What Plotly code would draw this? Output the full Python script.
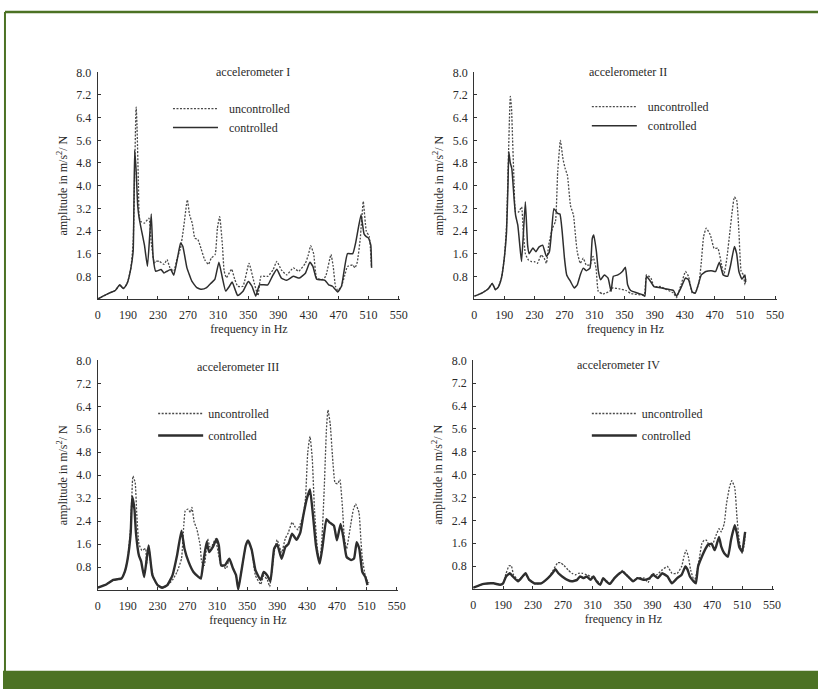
import plotly.graph_objects as go

W, H = 825, 689

# ---------------- data (frequency in Hz, amplitude in m/s^2/N) ----------------
f1_ctrl = [0, 40, 77, 110, 139, 160, 180, 190, 194, 197, 198, 199, 201, 203, 205, 207.5, 212, 216, 221, 223.6, 227,
           234, 238, 242, 247, 251, 256, 260, 263, 266, 268.5, 275, 281.6, 288, 294.7, 301, 305.6, 311, 315.6, 320,
           325, 328.6, 333, 336, 343, 350, 355, 360, 365, 376, 382, 388, 394, 401, 410, 418, 426, 432, 436, 441,
           452, 457, 462, 469, 474, 482, 489, 493, 500, 504, 507, 510, 513, 514]
a1_ctrl = [0, 0.12, 0.22, 0.3, 0.5, 0.37, 0.5, 0.63, 1.1, 1.7, 3.3, 5.25, 4.5, 3.3, 2.85, 2.5, 1.9, 1.15, 3.0, 1.45, 0.98,
           1.04, 0.92, 0.98, 1.04, 0.84, 1.45, 1.98, 1.86, 1.45, 1.1, 0.63, 0.4, 0.34, 0.4, 0.57, 0.69, 1.3, 0.75, 0.28,
           0.45, 0.6, 0.3, 0.12, 0.27, 0.62, 0.45, 0.1, 0.5, 0.5, 0.8, 1.05, 0.74, 0.66, 0.8, 0.74, 0.91, 1.3, 1.15, 0.7,
           0.66, 0.5, 0.45, 0.25, 0.45, 1.6, 1.6, 2.0, 2.97, 2.3, 2.2, 2.15, 1.9, 1.1]
f1_unc = [0, 40, 77, 110, 139, 160, 180, 190, 194, 197, 199, 200.5, 201, 202, 204, 205, 207, 212, 218, 221, 225, 227,
          232, 238, 242, 246, 251, 255.6, 260, 264, 269, 272, 275.5, 279, 283, 287, 292, 297, 301, 306, 309, 312,
          315.6, 318, 321, 326, 328, 332, 336, 343, 351, 358, 363, 367, 376, 383, 388, 394, 401, 410, 417, 426, 430,
          433, 437, 441, 448, 453, 460, 463, 466, 469, 474, 478, 482, 489, 492, 495, 499, 503, 507, 511, 514]
a1_unc = [0, 0.12, 0.22, 0.3, 0.5, 0.37, 0.5, 0.63, 1.1, 2.0, 4.5, 6.5, 6.77, 6.2, 4.0, 2.9, 2.74, 2.68, 2.85, 2.0, 1.27,
          1.33, 1.33, 1.22, 1.39, 1.1, 0.98, 1.45, 1.8, 2.5, 3.5, 2.97, 2.68, 2.15, 2.1, 1.8, 1.39, 1.22, 1.45, 1.57,
          2.5, 2.91, 1.92, 0.98, 0.75, 0.98, 1.05, 0.7, 0.45, 0.45, 1.26, 0.56, 0.12, 0.8, 0.8, 1.03, 1.33, 1.03,
          0.85, 1.1, 0.98, 1.26, 1.56, 1.88, 1.6, 0.74, 0.68, 0.8, 1.57, 1.15, 0.45, 0.3, 0.45, 0.8, 1.15, 1.2, 1.1,
          1.3, 2.14, 3.44, 2.4, 2.2, 1.1]

f2_ctrl = [0, 48, 89, 114, 134, 151, 172, 190, 193, 195, 196, 198, 200, 203, 205, 208, 211, 213, 218, 221, 223, 228,
           232, 236, 241, 246, 250, 253, 256, 261, 264, 267, 270, 273, 278, 283, 287, 291, 295, 299, 304, 307, 309,
           312.5, 315, 318, 323, 328, 332, 335, 341, 347, 351, 354, 358, 367, 374, 377, 379, 385, 389, 398, 406, 415,
           419, 425, 431, 435, 440, 444, 449, 452, 458, 465, 471, 476, 481, 487, 491, 496, 499, 502, 506, 510, 511]
a2_ctrl = [0.1, 0.21, 0.36, 0.55, 0.33, 0.41, 0.74, 1.44, 2.37, 4.13, 5.2, 4.8, 4.6, 3.54, 2.96, 2.6, 1.79, 1.32, 3.43,
           1.9, 1.6, 1.8, 1.67, 1.83, 1.9, 1.5, 1.67, 2.43, 3.19, 3.02, 3.0, 2.37, 1.44, 0.85, 0.62, 0.39, 0.5, 0.85,
           1.09, 1.0, 1.09, 2.14, 2.26, 1.67, 1.0, 0.68, 0.85, 0.74, 0.27, 0.8, 0.85, 0.97, 1.12, 0.5, 0.3, 0.21, 0.15,
           0.1, 0.8, 0.6, 0.44, 0.4, 0.35, 0.3, 0.1, 0.4, 0.74, 0.68, 0.25, 0.21, 0.6, 0.85, 0.97, 1.0, 0.97, 1.3, 0.85,
           0.8, 1.2, 1.85, 1.6, 0.97, 0.7, 0.85, 0.6]
f2_unc = [0, 48, 89, 114, 134, 151, 172, 190, 193, 195, 197, 198, 199.5, 201, 203, 205, 209, 213, 215, 218, 222, 226,
          230, 234, 239, 243, 246, 249, 254, 258, 261, 264.6, 268, 271, 274, 278, 282, 285, 287, 291, 295, 299, 304,
          308, 312, 315, 321, 330, 334, 343, 352, 358, 376, 379, 385, 389, 398, 406, 415, 419, 425, 431, 435, 440,
          444, 449, 452, 455, 458.5, 464, 469, 474, 479, 482, 486, 490, 493, 496, 499, 502, 505, 508, 510, 511]
a2_unc = [0.1, 0.21, 0.36, 0.55, 0.33, 0.41, 0.74, 1.44, 2.6, 4.5, 6.5, 7.15, 6.8, 5.65, 4.1, 3.07, 3.07, 3.25, 2.5,
          1.6, 1.38, 1.32, 1.32, 1.26, 1.55, 1.44, 1.26, 1.9, 2.5, 2.73, 4.48, 5.6, 4.95, 4.6, 4.36, 3.3, 2.96, 2.14,
          1.67, 1.26, 1.44, 1.2, 1.2, 1.5, 1.09, 0.27, 0.18, 0.27, 0.39, 0.36, 0.3, 0.2, 0.15, 0.85, 0.74, 0.44, 0.44,
          0.33, 0.21, 0.05, 0.5, 0.97, 0.8, 0.21, 0.21, 0.6, 1.3, 2.2, 2.5, 2.26, 1.79, 1.79, 1.2, 0.85, 1.44, 2.37,
          3.08, 3.6, 3.49, 2.37, 0.97, 0.85, 0.5, 0.7]

f3_ctrl = [0, 56, 98, 129, 150, 171, 190, 194, 196, 199, 201, 205, 208, 212, 218, 223, 230, 236, 243, 250, 256, 262,
           266, 271.5, 278, 284.6, 288, 291, 295.6, 299, 304, 309, 312, 315, 320, 326, 331, 335, 338, 342, 348, 351,
           356, 361, 368, 372, 377, 381, 386, 390, 396, 401, 405, 410, 416, 421, 425, 430, 434, 438, 442, 447, 451,
           456, 460, 466, 470, 475, 479, 483, 489, 493, 496.5, 500, 504, 508, 511]
a3_ctrl = [0.08, 0.2, 0.35, 0.38, 0.4, 0.63, 1.1, 2.0, 3.25, 2.82, 2.0, 1.2, 1.0, 0.45, 1.55, 0.52, 0.17, 0.08, 0.17,
           0.52, 1.2, 2.07, 1.44, 0.98, 0.63, 0.46, 0.4, 0.92, 1.67, 1.32, 1.5, 1.78, 1.55, 0.86, 0.86, 1.09, 0.75, 0.52,
           0.02, 0.63, 1.55, 1.73, 1.4, 0.69, 0.35, 0.63, 0.5, 0.3, 1.44, 1.6, 1.09, 1.5, 1.6, 1.96, 1.75, 2.0, 2.59,
           3.2, 3.5, 2.6, 1.55, 0.92, 1.55, 2.47, 2.36, 2.24, 1.73, 2.3, 1.78, 1.15, 1.04, 1.1, 1.67, 1.44, 0.63, 0.46,
           0.17]
f3_unc = [0, 56, 98, 129, 150, 171, 190, 194, 197, 200, 202, 205, 209, 214, 215, 218, 221, 225, 232, 241, 250, 256,
          262, 265, 267, 270.6, 274, 276, 279, 282.5, 287, 289, 292.5, 297, 300, 303, 307.5, 311, 315, 322, 326, 331,
          335, 338, 342, 348, 351, 356, 361, 368, 372, 377, 380, 386, 390, 396, 401, 405, 410, 414, 418, 421, 425,
          428, 431, 434, 437, 440, 444, 447, 450, 453, 456, 458, 461, 464, 467.5, 471, 474, 477.6, 480, 483, 489,
          492, 495, 499.6, 502, 504, 508, 511, 513]
a3_unc = [0.08, 0.2, 0.35, 0.38, 0.4, 0.63, 1.1, 2.2, 3.97, 3.74, 2.7, 1.61, 1.38, 1.44, 0.86, 1.55, 0.86, 0.4, 0.12,
          0.12, 0.35, 0.63, 1.09, 2.24, 2.76, 2.82, 2.7, 2.88, 2.36, 2.13, 1.55, 0.98, 0.86, 1.78, 1.5, 1.55, 1.78,
          1.32, 0.86, 0.75, 1.09, 0.75, 0.52, 0.06, 0.63, 1.55, 1.73, 1.4, 0.5, 0.2, 0.5, 0.35, 0.12, 1.3, 1.75, 1.3,
          1.8, 2.0, 2.36, 2.2, 2.1, 2.3, 2.6, 3.2, 4.8, 5.35, 4.6, 2.8, 1.4, 0.92, 1.8, 3.5, 5.6, 6.27, 5.8, 4.7, 3.74,
          3.7, 3.85, 2.82, 1.8, 1.44, 2.36, 2.8, 3.0, 2.7, 1.8, 1.1, 0.5, 0.3, 0.25]

f4_ctrl = [0, 67, 129, 171, 190, 194, 199, 203, 210, 216, 220, 225, 232, 241, 250, 256, 260, 264, 269, 276, 282, 289,
           293, 298, 302, 307, 311, 315, 320, 324, 328, 333, 339, 346, 350, 357, 364, 370, 379, 386, 391, 397, 403,
           410, 416, 423, 429, 434, 437, 440, 445, 448, 451, 456, 460, 464, 469, 473, 475, 479, 482, 486, 491, 495,
           500, 503, 506, 510, 513, 514]
a4_ctrl = [0.05, 0.18, 0.2, 0.15, 0.2, 0.44, 0.55, 0.44, 0.27, 0.44, 0.55, 0.32, 0.2, 0.2, 0.38, 0.55, 0.69, 0.55,
           0.44, 0.32, 0.27, 0.32, 0.44, 0.38, 0.44, 0.32, 0.44, 0.27, 0.15, 0.38, 0.27, 0.18, 0.38, 0.55, 0.61, 0.44,
           0.27, 0.38, 0.32, 0.38, 0.5, 0.38, 0.55, 0.44, 0.2, 0.38, 0.5, 0.79, 0.67, 0.44, 0.27, 0.2, 0.79, 1.13,
           1.36, 1.54, 1.59, 1.36, 1.48, 1.82, 1.48, 1.25, 1.13, 1.71, 2.23, 1.94, 1.48, 1.3, 1.82, 2.0]
f4_unc = [0, 67, 129, 171, 190, 194, 198, 201, 204, 210, 216, 220, 225, 232, 241, 250, 256, 263, 267, 271, 277, 282,
          287, 291, 296, 302, 307, 311, 315, 320, 324, 328, 333, 339, 346, 350, 357, 364, 370, 379, 384, 390, 396,
          403, 410, 416, 423, 429, 432, 435, 438, 441, 446, 449, 453, 456, 459, 462, 467, 471, 475, 479, 482, 486,
          489, 493, 496, 500, 503, 506, 510, 513, 514]
a4_unc = [0.05, 0.18, 0.2, 0.15, 0.2, 0.55, 0.81, 0.81, 0.5, 0.32, 0.44, 0.55, 0.32, 0.18, 0.2, 0.38, 0.61, 0.92,
          0.92, 0.84, 0.67, 0.55, 0.5, 0.55, 0.55, 0.5, 0.44, 0.38, 0.3, 0.2, 0.38, 0.3, 0.2, 0.38, 0.55, 0.65, 0.44,
          0.27, 0.4, 0.38, 0.23, 0.55, 0.5, 0.67, 0.79, 0.55, 0.55, 0.79, 1.13, 1.36, 1.13, 0.67, 0.27, 0.55, 1.13,
          1.59, 1.71, 1.71, 1.48, 1.59, 1.88, 2.11, 2.0, 2.29, 2.98, 3.56, 3.79, 3.56, 2.52, 1.71, 1.25, 1.59, 1.94]

x_tick_labels = ["0", "190", "230", "270", "310", "350", "390", "430", "470", "510", "550"]
y_tick_vals = [0.8, 1.6, 2.4, 3.2, 4.0, 4.8, 5.6, 6.4, 7.2, 8.0]
titles = ["accelerometer I", "accelerometer II", "accelerometer III", "accelerometer IV"]
series_names = ["uncontrolled", "controlled"]


# broken frequency axis: 0..190 Hz takes one tick interval, then 40 Hz per interval
def pos(f):
    return f / 190.0 if f <= 190 else 1.0 + (f - 190.0) / 40.0


def tick_pos(lbl):
    return pos(float(lbl))


FONT = "Liberation Serif"
TXT = "#2a2a2a"
NB = "\u00a0"

panels = [
    # (unc f, unc a, ctrl f, ctrl a, x px domain, y px domain (top,bottom), ctrl width,
    #  title center px, legend top-left px, legend text pad, legend group gap)
    (f1_unc, a1_unc, f1_ctrl, a1_ctrl, (96, 402), (66, 295), 1.5, (253, 66), (167, 88), 2, 0),
    (f2_unc, a2_unc, f2_ctrl, a2_ctrl, (477, 783), (66, 295), 1.5, (633, 66), (591, 86), 2, 0),
    (f3_unc, a3_unc, f3_ctrl, a3_ctrl, (96, 400), (357, 589), 2.4, (238, 364), (152, 396), 0, 3),
    (f4_unc, a4_unc, f4_ctrl, a4_ctrl, (476, 780), (357, 588), 2.4, (623, 362), (591, 396), 0, 3),
]

fig = go.Figure()
annotations = []
for i, (fu, au, fc, ac, xd, yd, cw, tc, lg, pad, gap) in enumerate(panels):
    k = "" if i == 0 else str(i + 1)
    leg = "legend" if i == 0 else "legend" + str(i + 1)
    fig.add_trace(go.Scatter(x=[pos(v) for v in fu], y=au, mode="lines", name=NB * pad + series_names[0],
                             line=dict(color="#4a4a4a", width=1.3, dash="2px,1.5px", shape="spline", smoothing=0.4),
                             xaxis="x" + k, yaxis="y" + k, legend=leg, legendgroup="u" + k))
    fig.add_trace(go.Scatter(x=[pos(v) for v in fc], y=ac, mode="lines", name=NB * pad + series_names[1],
                             line=dict(color="#2e2e2e", width=cw, shape="spline", smoothing=0.4),
                             xaxis="x" + k, yaxis="y" + k, legend=leg, legendgroup="c" + k))
    xa = dict(domain=[xd[0] / W, xd[1] / W], range=[0, 10.05], anchor="y" + k,
              tickvals=[tick_pos(t) for t in x_tick_labels], ticktext=x_tick_labels,
              showline=True, linecolor="#333", linewidth=1.2, ticks="inside", ticklen=3,
              tickcolor="#333", showgrid=False, zeroline=False,
              tickfont=dict(family=FONT, size=12, color=TXT), ticklabelstandoff=4,
              title=dict(text="frequency in Hz", font=dict(family=FONT, size=12, color=TXT), standoff=4))
    ya = dict(domain=[1 - yd[1] / H, 1 - yd[0] / H], range=[0, 8.0], anchor="x" + k,
              tickvals=y_tick_vals, ticktext=["%.1f" % v for v in y_tick_vals],
              showline=True, linecolor="#333", linewidth=1.2, ticks="inside", ticklen=3,
              tickcolor="#333", showgrid=False, zeroline=False,
              tickfont=dict(family=FONT, size=12, color=TXT), ticklabelstandoff=3,
              title=dict(text="amplitude in m/s<sup>2</sup>/ N", font=dict(family=FONT, size=12, color=TXT),
                         standoff=6))
    fig.layout["xaxis" + k] = xa
    fig.layout["yaxis" + k] = ya
    fig.layout[leg] = dict(x=lg[0] / W, y=1 - lg[1] / H, xanchor="left", yanchor="top",
                           bgcolor="rgba(0,0,0,0)", itemwidth=45, tracegroupgap=gap,
                           font=dict(family=FONT, size=12, color=TXT))
    annotations.append(dict(text=titles[i], x=tc[0] / W, y=1 - tc[1] / H, xref="paper", yref="paper",
                            showarrow=False, xanchor="center", yanchor="middle",
                            font=dict(family=FONT, size=12, color=TXT)))

green = "#4c7224"
shapes = [
    dict(type="line", xref="paper", yref="paper", x0=2 / W, x1=1, y0=1 - 5 / H, y1=1 - 5 / H,
         line=dict(color=green, width=2.5)),
    dict(type="line", xref="paper", yref="paper", x0=2 / W, x1=2 / W, y0=1 - 5 / H, y1=18 / H,
         line=dict(color=green, width=2)),
    dict(type="rect", xref="paper", yref="paper", x0=0, x1=1, y0=0, y1=18.5 / H,
         fillcolor=green, line=dict(width=0)),
]

fig.update_layout(width=W, height=H, margin=dict(l=0, r=0, t=0, b=0),
                  paper_bgcolor="white", plot_bgcolor="white", showlegend=True,
                  annotations=annotations, shapes=shapes,
                  font=dict(family=FONT, size=12, color=TXT))
fig.write_html("out.html", config={"displayModeBar": False},
               post_script="document.body.style.margin='0px';document.body.style.padding='0px';")
